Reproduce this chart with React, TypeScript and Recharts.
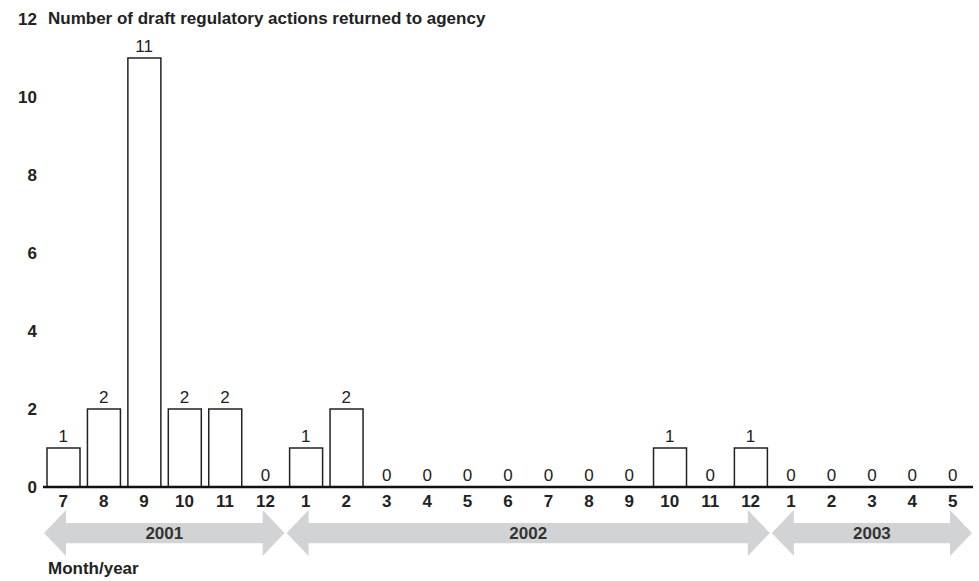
import React from 'react';
import { ComposedChart, Bar, Line, XAxis, YAxis, ReferenceArea } from 'recharts';

const monthLabels = ['7', '8', '9', '10', '11', '12', '1', '2', '3', '4', '5', '6', '7', '8', '9', '10', '11', '12', '1', '2', '3', '4', '5'];
const monthYears = [2001, 2001, 2001, 2001, 2001, 2001, 2002, 2002, 2002, 2002, 2002, 2002, 2002, 2002, 2002, 2002, 2002, 2002, 2003, 2003, 2003, 2003, 2003];
const returnedCounts = [1, 2, 11, 2, 2, 0, 1, 2, 0, 0, 0, 0, 0, 0, 0, 1, 0, 1, 0, 0, 0, 0, 0];
const yearLabels = ['2001', '2002', '2003'];
const yTicks = [0, 2, 4, 6, 8, 10, 12];

const FONT = '"Liberation Sans", Arial, Helvetica, sans-serif';

const data = monthLabels.map((m, i) => ({
    key: `${monthYears[i]}-${m}`,
    month: m,
    count: returnedCounts[i],
}));

// first and last month key of each year, for the grey arrows
const yearSpans = yearLabels.map(y => {
    const keys = data.filter(d => d.key.startsWith(y)).map(d => d.key);
    return { year: y, from: keys[0], to: keys[keys.length - 1] };
});

const ArrowShape = (props: any) => {
    const { x, y, width, height } = props;
    const head = 22;
    const inset = height * 0.28;
    const cy = y + height / 2;
    const l = x + 1;
    const r = x + width - 1;
    const d = `M${l},${cy} L${l + head},${y} L${l + head},${y + inset} L${r - head},${y + inset} L${r - head},${y} L${r},${cy} L${r - head},${y + height} L${r - head},${y + height - inset} L${l + head},${y + height - inset} L${l + head},${y + height} Z`;
    return <path d={d} fill="#d2d3d4" stroke="none" />;
};

// value labels (zero bars included) sit on top of the bar
const ValueLabel = (props: any) => {
    const { x, y, value, index } = props;
    return (
        <text key={`v-${index}`} x={x} y={y - 6} textAnchor="middle" fontSize={17} fill="#222" fontFamily={FONT}>
            {value}
        </text>
    );
};

const App: React.FC = () => {
    return (
        <div style={{ position: 'absolute', left: 0, top: 0, width: 979, height: 581, background: '#fff', fontFamily: FONT }}>
            <ComposedChart width={979} height={581} data={data} margin={{ top: 19, right: 6, bottom: 64, left: 0 }} barSize={33}>
                <XAxis
                    dataKey="key"
                    height={30}
                    interval={0}
                    tickFormatter={(k: string) => k.split('-')[1]}
                    axisLine={{ stroke: '#111', strokeWidth: 2.5 }}
                    tickLine={false}
                    tickSize={0}
                    tickMargin={8}
                    tick={{ fontSize: 17, fontWeight: 700, fill: '#222', fontFamily: FONT }}
                />
                <YAxis
                    domain={[0, 12]}
                    ticks={yTicks}
                    width={43}
                    axisLine={false}
                    tickLine={false}
                    tickSize={0}
                    tickMargin={6}
                    tick={{ fontSize: 17, fontWeight: 700, fill: '#222', fontFamily: FONT }}
                />
                <Bar dataKey="count" fill="#fff" stroke="#222" strokeWidth={1.5} isAnimationActive={false} />
                <Line dataKey="count" stroke="none" dot={false} activeDot={false} isAnimationActive={false} label={<ValueLabel />} />
                {yearSpans.map(s => (
                    <ReferenceArea
                        key={s.year}
                        x1={s.from}
                        x2={s.to}
                        y1={-0.59}
                        y2={-1.77}
                        ifOverflow="visible"
                        shape={<ArrowShape />}
                        label={{ value: s.year, position: 'center', fontSize: 17, fontWeight: 700, fill: '#333', fontFamily: FONT }}
                    />
                ))}
            </ComposedChart>
            <div style={{ position: 'absolute', left: 48, top: 9, fontSize: 17, fontWeight: 700, lineHeight: '20px', color: '#222' }}>
                Number of draft regulatory actions returned to agency
            </div>
            <div style={{ position: 'absolute', left: 48, top: 559, fontSize: 17, fontWeight: 700, lineHeight: '20px', color: '#222' }}>
                Month/year
            </div>
        </div>
    );
};

export default App;
